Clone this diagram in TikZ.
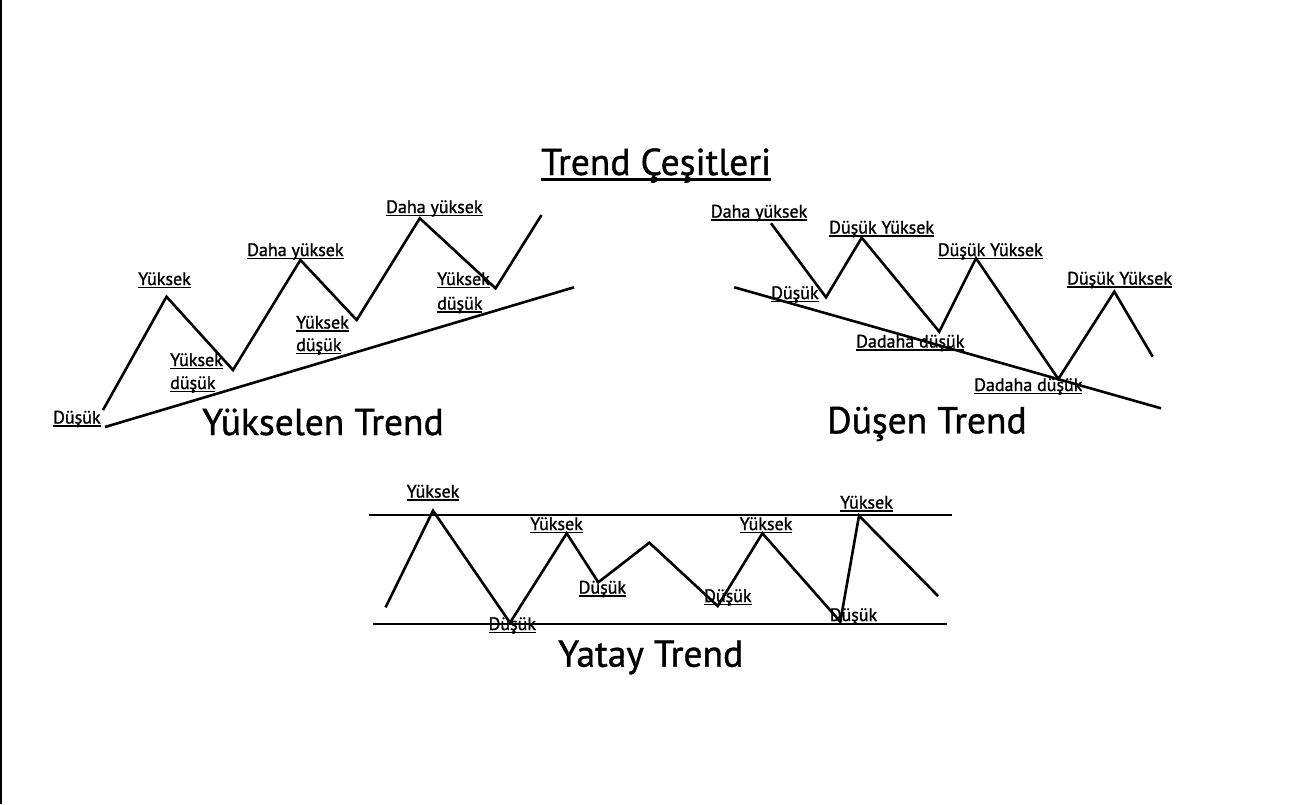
\documentclass[tikz,border=0pt]{standalone}
\usepackage{fontspec}
\setmainfont{PT Sans}
\newfontfamily\lblfont{PT Sans}[FakeBold=1.2]
\newfontfamily\bigfont{PT Sans}[FakeBold=1.0]
\newcommand{\myul}[1]{\setbox0\hbox{#1}\rlap{\rule[-0.17em]{\wd0}{0.08em}}\box0}
\begin{document}
\begin{tikzpicture}[x=1pt,y=-1pt,
  zig/.style={line width=2.6pt,line join=miter,line cap=butt},
  trendline/.style={line width=2.6pt},
  lbl/.style={anchor=base west,inner sep=0pt,font=\lblfont\fontsize{18}{23}\selectfont,align=left},
  big/.style={anchor=base west,inner sep=0pt,font=\bigfont\fontsize{37.5}{40}\selectfont},
  ttl/.style={anchor=base west,inner sep=0pt,font=\bigfont\fontsize{37.5}{40}\selectfont}]
\useasboundingbox (0,0) rectangle (1300,804);
\fill[white] (0,0) rectangle (1300,804);
\draw[line width=2pt] (1,0) -- (1,804);

% Title
\node[ttl] (title) at (541,175) {\myul{Trend Çeşitleri}};

% ===== Yükselen Trend =====
\coordinate (a0) at (103,410);
\coordinate (a1) at (166.5,296.7);
\coordinate (a2) at (233,370);
\coordinate (a3) at (300.4,260);
\coordinate (a4) at (356.7,320);
\coordinate (a5) at (419.8,218.3);
\coordinate (a6) at (495.6,288.3);
\coordinate (a7) at (541.5,215);
\coordinate (at1) at (105,427);
\coordinate (at2) at (574,287.3);
\draw[zig] (a0) -- (a1) -- (a2) -- (a3) -- (a4) -- (a5) -- (a6) -- (a7);
\draw[trendline] (at1) -- (at2);
\node[lbl] (la0) at (53,423.5) {\myul{Düşük}};
\node[lbl] (la1) at (138,285) {\myul{Yüksek}};
\node[lbl] (la2a) at (170,366) {\myul{Yüksek}};
\node[lbl] (la2b) at (170,389) {\myul{düşük}};
\node[lbl] (la3) at (247,256) {\myul{Daha yüksek}};
\node[lbl] (la4a) at (296,328.5) {\myul{Yüksek}};
\node[lbl] (la4b) at (296,351) {\myul{düşük}};
\node[lbl] (la5) at (386,213) {\myul{Daha yüksek}};
\node[lbl] (la6a) at (437,285) {\myul{Yüksek}};
\node[lbl] (la6b) at (437,309.5) {\myul{düşük}};
\node[big] (ta) at (202,435) {Yükselen Trend};

% ===== Düşen Trend =====
\coordinate (d0) at (771,223.3);
\coordinate (d1) at (826,297.3);
\coordinate (d2) at (861.7,237.7);
\coordinate (d3) at (939.3,331.7);
\coordinate (d4) at (976,258.3);
\coordinate (d5) at (1058.3,379);
\coordinate (d6) at (1114.3,291.7);
\coordinate (d7) at (1152.7,356.7);
\coordinate (dt1) at (734.3,287.3);
\coordinate (dt2) at (1161,408.3);
\draw[zig] (d0) -- (d1) -- (d2) -- (d3) -- (d4) -- (d5) -- (d6) -- (d7);
\draw[trendline] (dt1) -- (dt2);
\node[lbl] (ld0) at (710.7,217.5) {\myul{Daha yüksek}};
\node[lbl] (ld1) at (771,299) {\myul{Düşük}};
\node[lbl] (ld2) at (829,233.5) {\myul{Düşük Yüksek}};
\node[lbl] (ld3) at (856,347.5) {\myul{Dadaha düşük}};
\node[lbl] (ld4) at (937.7,256) {\myul{Düşük Yüksek}};
\node[lbl] (ld5) at (974,391) {\myul{Dadaha düşük}};
\node[lbl] (ld6) at (1067,284.5) {\myul{Düşük Yüksek}};
\node[big] (td) at (827,433.3) {Düşen Trend};

% ===== Yatay Trend =====
\coordinate (y0) at (385.6,607.3);
\coordinate (y1) at (433,510.7);
\coordinate (y2) at (510,622.7);
\coordinate (y3) at (566.7,533.3);
\coordinate (y4) at (598.3,582.3);
\coordinate (y5) at (649.3,542.7);
\coordinate (y6) at (717.7,606);
\coordinate (y7) at (762.4,533.3);
\coordinate (y8) at (840.3,621.7);
\coordinate (y9) at (859,515.7);
\coordinate (y10) at (938,596);
\coordinate (yt1) at (369,515);
\coordinate (yt2) at (952,515);
\coordinate (yb1) at (373,624);
\coordinate (yb2) at (947,624);
\draw[zig] (y0) -- (y1) -- (y2) -- (y3) -- (y4) -- (y5) -- (y6) -- (y7) -- (y8) -- (y9) -- (y10);
\draw[trendline] (yt1) -- (yt2);
\draw[trendline] (yb1) -- (yb2);
\node[lbl] (ly1) at (406.5,497.5) {\myul{Yüksek}};
\node[lbl] (ly2) at (488.4,630) {\myul{Düşük}};
\node[lbl] (ly3) at (530,530) {\myul{Yüksek}};
\node[lbl] (ly4) at (578.5,593.5) {\myul{Düşük}};
\node[lbl] (ly5) at (704,602) {\myul{Düşük}};
\node[lbl] (ly6) at (739.5,530) {\myul{Yüksek}};
\node[lbl] (ly7) at (829.6,621) {\myul{Düşük}};
\node[lbl] (ly8) at (840,508.5) {\myul{Yüksek}};
\node[big] (ty) at (558,666.7) {Yatay Trend};
\end{tikzpicture}
\end{document}
